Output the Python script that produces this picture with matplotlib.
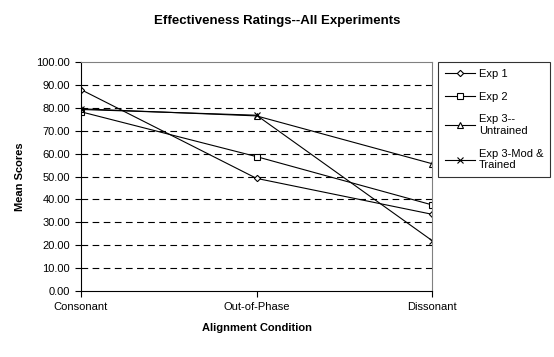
import matplotlib
matplotlib.use('Agg')
import matplotlib.pyplot as plt
import numpy as np

plt.rcParams['font.family'] = ['Liberation Sans', 'DejaVu Sans']

conditions = ['Consonant', 'Out-of-Phase', 'Dissonant']
exp1 = [88.0, 49.2, 33.5]
exp2 = [78.3, 58.7, 37.6]
exp3_untrained = [79.6, 76.5, 55.6]
exp3_mod = [79.3, 76.8, 22.0]
labels = ['Exp 1', 'Exp 2', 'Exp 3--\nUntrained', 'Exp 3-Mod &\nTrained']
yticks = np.arange(0, 101, 10)

fig = plt.figure(figsize=(5.54, 3.57), dpi=100)
ax = fig.add_axes([0.146, 0.185, 0.634, 0.641])

x = np.arange(len(conditions))
ax.plot(x, exp1, color='black', lw=0.8, marker='D', ms=3.2, mfc='white', mec='black', mew=0.8, label=labels[0])
ax.plot(x, exp2, color='black', lw=0.8, marker='s', ms=4, mfc='white', mec='black', mew=0.8, label=labels[1])
ax.plot(x, exp3_untrained, color='black', lw=0.8, marker='^', ms=4, mfc='white', mec='black', mew=0.8, label=labels[2])
ax.plot(x, exp3_mod, color='black', lw=0.8, marker='x', ms=4, mec='black', mew=0.8, label=labels[3])

for v in yticks[1:-1]:
    ax.axhline(v, color='black', lw=0.8, ls=(0, (6, 4)), zorder=0)

ax.set_xlim(0, 2)
ax.set_ylim(0, 100)
ax.set_xticks(x)
ax.set_xticklabels(conditions, fontsize=8)
ax.set_yticks(yticks)
ax.set_yticklabels(['%.2f' % v for v in yticks], fontsize=8)
ax.tick_params(direction='out', length=4, width=0.8, pad=4)

ax.spines['left'].set_color('black')
ax.spines['bottom'].set_color('black')
ax.spines['top'].set_color('grey')
ax.spines['right'].set_color('grey')
for s in ax.spines.values():
    s.set_linewidth(0.8)
ax.patch.set_facecolor('white')

ax.set_xlabel('Alignment Condition', fontsize=8, fontweight='bold', labelpad=8)
ax.set_ylabel('Mean Scores', fontsize=8, fontweight='bold', labelpad=8)
fig.text(0.5, 0.94, 'Effectiveness Ratings--All Experiments', ha='center', va='center',
         fontsize=9.5, fontweight='bold')

lgd = ax.legend(loc='upper left', bbox_to_anchor=(1.017, 1.0), borderaxespad=0, fontsize=8,
                frameon=True, fancybox=False, edgecolor='black', borderpad=0.6, labelspacing=1.15,
                handlelength=2.7, handletextpad=0.4)
lgd.get_frame().set_linewidth(0.8)

fig.savefig('out.png', dpi=100)
